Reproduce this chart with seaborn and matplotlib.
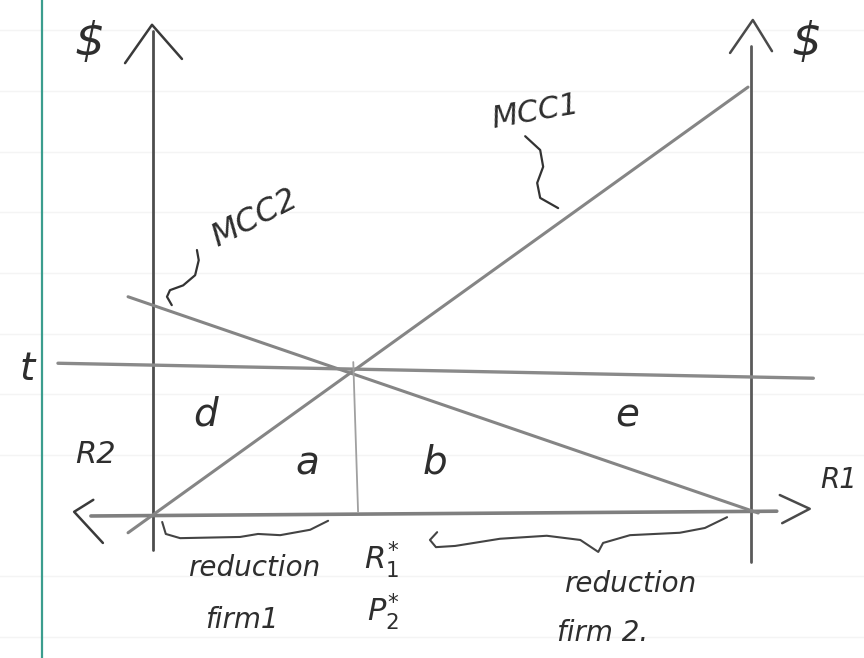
import matplotlib
matplotlib.use("Agg")
import matplotlib.pyplot as plt
import pandas as pd
import seaborn as sns

# Units: abatement runs from 0 (left $ axis) to 10 (right $ axis); cost on the vertical.
mcc1_x = [-0.40, 9.95]
mcc1_y = [-0.33, 7.11]
mcc2_x = [-0.40, 10.12]
mcc2_y = [3.61, 0.00]
tax_x = [-1.57, 11.04]
tax_y = [2.50, 2.25]
drop_x = [3.36, 3.44]
drop_y = [2.52, 0.02]

base_x = [-1.02, 10.43]
base_y = [-0.05, 0.03]
left_axis_x = [0.02, 0.02]
left_axis_y = [-0.62, 8.05]
right_axis_x = [10.0, 10.0]
right_axis_y = [-0.82, 7.80]

left_head_x = [-0.45, 0.00, 0.50]
left_head_y = [7.51, 8.15, 7.58]
right_head_x = [9.65, 10.03, 10.35]
right_head_y = [7.68, 8.23, 7.71]
lt_head_x = [-0.98, -1.30, -0.82]
lt_head_y = [0.22, 0.02, -0.50]
gt_head_x = [10.48, 10.98, 10.52]
gt_head_y = [0.30, 0.07, -0.17]

mcc1_tie_x = [6.23, 6.48, 6.53, 6.43, 6.48, 6.78]
mcc1_tie_y = [6.29, 6.06, 5.78, 5.51, 5.26, 5.09]
mcc2_tie_x = [0.75, 0.78, 0.72, 0.52, 0.30, 0.25, 0.33]
mcc2_tie_y = [4.39, 4.22, 3.97, 3.80, 3.72, 3.61, 3.47]

brace1_x = [0.17, 0.23, 0.47, 1.47, 1.77, 2.14, 2.64, 2.94]
brace1_y = [-0.15, -0.35, -0.42, -0.40, -0.35, -0.37, -0.28, -0.13]
brace2_x = [4.76, 4.64, 4.74, 5.06, 5.81, 6.59, 7.15, 7.45, 7.53, 7.98, 8.81, 9.23, 9.60]
brace2_y = [-0.32, -0.45, -0.57, -0.55, -0.43, -0.38, -0.45, -0.65, -0.50, -0.37, -0.33, -0.25, -0.07]

margin_x = [-1.84, -1.84]
margin_y = [-2.5, 8.6]
ruled_y = [8.06, 7.05, 6.03, 5.03, 4.01, 2.99, 1.99, 0.97, -1.05, -2.07]

sns.set_theme(style="white")
plt.rcParams["font.family"] = ["DejaVu Sans"]

fig = plt.figure(figsize=(8.64, 6.58), dpi=100)
ax = fig.add_axes([0, 0, 1, 1])
ax.set_xlim(-2.5376, 11.886)
ax.set_ylim(-2.4207, 8.564)
ax.axis("off")
fig.patch.set_facecolor("white")


def stroke(xs, ys, color, lw, z=2):
    df = pd.DataFrame({"x": xs, "y": ys})
    sns.lineplot(data=df, x="x", y="y", ax=ax, sort=False, estimator=None,
                 color=color, linewidth=lw, legend=False, zorder=z,
                 solid_capstyle="round", solid_joinstyle="round")


# notebook paper
for ry in ruled_y:
    stroke([-2.6, 12.0], [ry, ry], "#f4f4f4", 1.0, z=0)
stroke(margin_x, margin_y, "#3b9d8e", 1.6, z=1)

# axes
stroke(left_axis_x, left_axis_y, "#4d4d4d", 2.0)
stroke(right_axis_x, right_axis_y, "#5a5a5a", 2.0)
stroke(base_x, base_y, "#7f7f7f", 2.6)
stroke(left_head_x, left_head_y, "#3a3a3a", 1.8)
stroke(right_head_x, right_head_y, "#4a4a4a", 1.8)
stroke(lt_head_x, lt_head_y, "#3a3a3a", 1.8)
stroke(gt_head_x, gt_head_y, "#4a4a4a", 1.8)

# curves and tax line
stroke(mcc1_x, mcc1_y, "#858585", 2.2)
stroke(mcc2_x, mcc2_y, "#858585", 2.2)
stroke(tax_x, tax_y, "#8a8a8a", 2.4)
stroke(drop_x, drop_y, "#a0a0a0", 1.3)

# label ties and braces
stroke(mcc1_tie_x, mcc1_tie_y, "#333333", 1.6)
stroke(mcc2_tie_x, mcc2_tie_y, "#333333", 1.6)
stroke(brace1_x, brace1_y, "#444444", 1.5)
stroke(brace2_x, brace2_y, "#444444", 1.5)

ink = "#2e2e2e"
hand = dict(color=ink, fontstyle="italic", ha="center", va="center")
ax.text(-1.05, 7.85, r"\$", fontsize=34, **hand)
ax.text(10.93, 7.85, r"\$", fontsize=34, **hand)
ax.text(6.39, 6.69, "MCC1", fontsize=22, rotation=10, **hand)
ax.text(1.72, 4.92, "MCC2", fontsize=23, rotation=27, **hand)
ax.text(-2.09, 2.40, "t", fontsize=28, **hand)
ax.text(0.90, 1.65, "d", fontsize=28, **hand)
ax.text(2.59, 0.82, "a", fontsize=28, **hand)
ax.text(4.72, 0.85, "b", fontsize=28, **hand)
ax.text(7.93, 1.62, "e", fontsize=28, **hand)
ax.text(-0.95, 0.97, "R2", fontsize=22, **hand)
ax.text(11.15, 0.55, "R1", fontsize=20, color=ink, fontstyle="italic",
        ha="left", va="center")
ax.text(1.70, -0.92, "reduction", fontsize=20, **hand)
ax.text(3.84, -0.78, r"$R_1^{*}$", fontsize=22, **hand)
ax.text(1.50, -1.79, "firm1", fontsize=20, **hand)
ax.text(3.86, -1.65, r"$P_2^{*}$", fontsize=22, **hand)
ax.text(7.98, -1.19, "reduction", fontsize=20, **hand)
ax.text(7.53, -2.00, "firm 2.", fontsize=20, **hand)

fig.savefig("out.png", dpi=100, facecolor="white")
